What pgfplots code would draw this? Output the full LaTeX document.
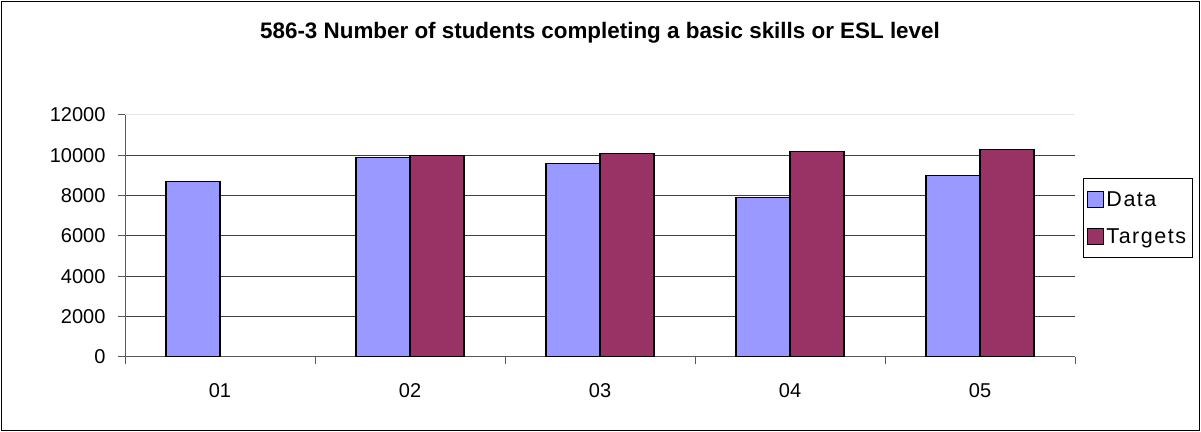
\documentclass[border=0pt]{standalone}
\usepackage{pgfplots}
\pgfplotsset{compat=1.18}
\usepackage{fontspec}
\setmainfont{Liberation Sans}
\definecolor{dataC}{HTML}{9999FF}
\definecolor{targC}{HTML}{993366}
\begin{document}
\begin{tikzpicture}
\useasboundingbox (0bp,0bp) rectangle (1201bp,432bp);
\draw[line width=1bp] (1.5bp,1.5bp) rectangle (1199.5bp,430.5bp);
\node[font=\fontsize{22.4bp}{25bp}\selectfont\bfseries] at (600bp,399bp) {586-3 Number of students completing a basic skills or ESL level};
\begin{axis}[at={(125bp,75bp)}, anchor=south west, scale only axis, width=950bp, height=242bp,
 ybar=0pt, bar width=54bp,
 xmin=-0.5, xmax=4.5, ymin=0, ymax=12000,
 axis x line*=bottom, axis y line*=left,
 axis line style={-, gray!70!black, line width=1bp},
 tick align=outside, major tick length=7bp,
 tick style={gray!70!black, line width=1bp},
 xtick={0,...,4}, xticklabels={01,02,03,04,05},
 major x tick style={draw=none},
 extra x ticks={-0.5,0.5,1.5,2.5,3.5,4.5}, extra x tick labels={},
 extra x tick style={grid=none, major x tick style={draw=gray!70!black, line width=1bp}},
 ytick={0,2000,...,10000},
 ymajorgrids, major grid style={black!75, line width=1bp},
 extra y ticks={12000}, extra y tick labels={12000},
 extra y tick style={grid=major, major grid style={black!10, line width=1bp}},
 scaled y ticks=false,
 /pgf/number format/assume math mode=true,
 /pgf/number format/1000 sep={},
 ticklabel style={font=\fontsize{20bp}{23bp}\selectfont},
 xticklabel style={yshift=-16bp},
 yticklabel style={xshift=-9bp},
 legend style={at={(1.0084,0.740)}, anchor=north west, draw=black, line width=1bp,
   font=\fontsize{21.5bp}{24bp}\selectfont\addfontfeature{LetterSpace=7}, row sep=17bp, inner xsep=4bp, inner ysep=11bp,
   nodes={inner sep=2bp}, /tikz/every even column/.append style={column sep=4bp}},
 legend image code/.code={\draw[#1, line width=1bp] (1bp,-8bp) rectangle (17bp,8bp);},
 legend cell align=left,
]
\addplot[fill=dataC, draw=black, line width=1.5bp] coordinates {(0,8700) (1,9900) (2,9600) (3,7900) (4,9000)};
\addplot[fill=targC, draw=black, line width=1.5bp] coordinates {(1,10000) (2,10100) (3,10200) (4,10300)};
\legend{Data,Targets}
\end{axis}
\end{tikzpicture}
\end{document}
